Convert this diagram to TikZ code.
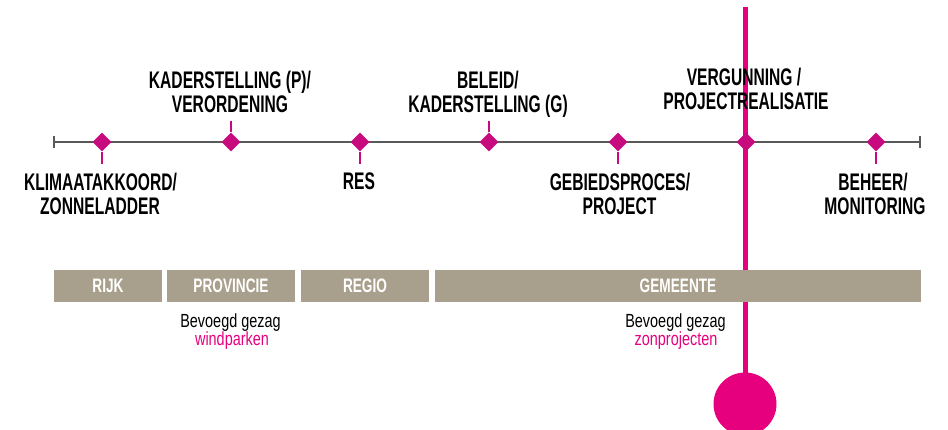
\documentclass[tikz,border=0pt]{standalone}
\usepackage{fontspec}
\setmainfont{Liberation Sans}
\newfontfamily\condfont[FakeStretch=0.65]{Liberation Sans}
\newfontfamily\barfont[FakeStretch=0.7]{Liberation Sans}
\newfontfamily\notefont[FakeStretch=0.76]{Liberation Sans}
\usetikzlibrary{shapes.geometric}
\definecolor{pinkline}{HTML}{E6007E}
\definecolor{diam}{HTML}{C70A7E}
\definecolor{barcol}{RGB}{168,160,140}
\definecolor{axiscol}{HTML}{595959}
\begin{document}
\begin{tikzpicture}[x=1pt,y=-1pt,
  lbl/.style={font=\condfont\bfseries\fontsize{24}{24}\selectfont, anchor=base, inner sep=0pt, text=black},
  barbox/.style={fill=barcol, minimum height=32pt, inner sep=0pt, text=white, font=\barfont\bfseries\fontsize{19.5}{19.5}\selectfont},
  note/.style={font=\notefont\fontsize{19}{19}\selectfont, anchor=base, inner sep=0pt, text=black},
  diamondmark/.style={shape=diamond, fill=diam, draw=none, minimum width=19pt, minimum height=19pt, inner sep=0pt},
  tickline/.style={draw=diam, line width=1.5pt},
  axisline/.style={draw=axiscol, line width=2pt}
]
\useasboundingbox (0,0) rectangle (948,430);
% pink vertical line and ball
\coordinate (ptop) at (745,7);
\node[circle, fill=pinkline, minimum size=63pt, inner sep=0pt] (ball) at (745,404) {};
\draw[pinkline, line width=5pt] (ptop) -- (ball.center);
% timeline
\coordinate (tl) at (54,142);
\coordinate (tr) at (920,142);
\draw[axisline] (tl) -- (tr);
\draw[axisline] ([yshift=6pt]tl) -- ([yshift=-6pt]tl);
\draw[axisline] ([yshift=6pt]tr) -- ([yshift=-6pt]tr);
% diamonds
\node[diamondmark] (d1) at (102,142) {};
\node[diamondmark] (d2) at (231,142) {};
\node[diamondmark] (d3) at (360,142) {};
\node[diamondmark] (d4) at (489,142) {};
\node[diamondmark] (d5) at (618,142) {};
\node[diamondmark] (d6) at (746,142) {};
\node[diamondmark] (d7) at (876,142) {};
\draw[tickline] (d1.south) -- ++(0,12);
\draw[tickline] (d2.north) -- ++(0,-11);
\draw[tickline] (d3.south) -- ++(0,12);
\draw[tickline] (d4.north) -- ++(0,-11);
\draw[tickline] (d5.south) -- ++(0,12);
\draw[tickline] (d7.south) -- ++(0,12);
% labels above
\node[lbl] (a1) at (230,89) {KADERSTELLING (P)/};
\node[lbl] (a2) at (230,113) {VERORDENING};
\node[lbl] (b1) at (488,89) {BELEID/};
\node[lbl] (b2) at (488,113) {KADERSTELLING (G)};
\node[lbl] (c1) at (744,86) {VERGUNNING /};
\node[lbl] (c2) at (746,110) {PROJECTREALISATIE};
% labels below
\node[lbl] (e1) at (100.5,191) {KLIMAATAKKOORD/};
\node[lbl] (e2) at (100,215) {ZONNELADDER};
\node[lbl] (f1) at (359,190) {RES};
\node[lbl] (g1) at (620,191) {GEBIEDSPROCES/};
\node[lbl] (g2) at (619.5,215) {PROJECT};
\node[lbl] (h1) at (873,191) {BEHEER/};
\node[lbl] (h2) at (875,215) {MONITORING};
% bars
\node[barbox, minimum width=108pt] (rijk) at (108,286) {RIJK};
\node[barbox, minimum width=128pt] (prov) at (231,286) {PROVINCIE};
\node[barbox, minimum width=128pt] (regio) at (365,286) {REGIO};
\node[barbox, minimum width=486pt] (gem) at (678,286) {GEMEENTE};
% notes
\node[note] (n1) at (230.5,327) {Bevoegd gezag};
\node[note, text=pinkline] (n2) at (232,345) {windparken};
\node[note] (m1) at (675.5,327) {Bevoegd gezag};
\node[note, text=pinkline] (m2) at (676,345) {zonprojecten};
\end{tikzpicture}
\end{document}
